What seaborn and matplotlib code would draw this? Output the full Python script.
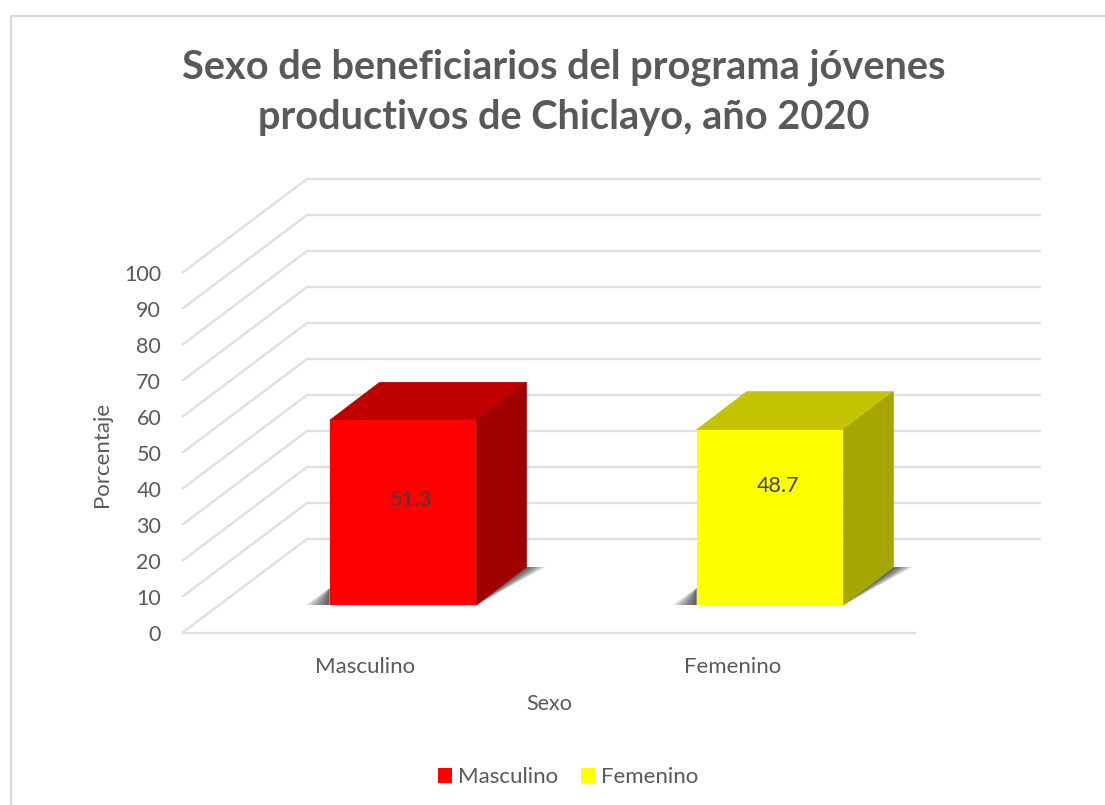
import matplotlib
matplotlib.use('Agg')
import matplotlib.pyplot as plt
from matplotlib.lines import Line2D
from matplotlib.patches import Polygon
from matplotlib.transforms import Affine2D
import pandas as pd
import seaborn as sns

# data
categories = ['Masculino', 'Femenino']
values = [51.3, 48.7]
y_ticks = [0, 10, 20, 30, 40, 50, 60, 70, 80, 90, 100]

front_colors = ['#FF0000', '#FFFF00']
top_colors = ['#C00000', '#C4C400']
side_colors = ['#A00000', '#A6A600']
text_color = '#595959'
grid_color = '#E0E0E0'

# fake 3D depth, in pixels
floor_dx, floor_dy = 125, 94
bar_dx, bar_dy = 50, 38
x_px, y_px = 367, 3.6

sns.set_theme(style='white')
plt.rcParams['font.family'] = ['Lato', 'DejaVu Sans']

fig = plt.figure(figsize=(11.05, 8.05), dpi=100, facecolor='white')
ax = fig.add_axes([182 / 1105, (805 - 633) / 805, 734 / 1105, 360 / 805])

df = pd.DataFrame({'Sexo': categories, 'Porcentaje': values})
sns.barplot(data=df, x='Sexo', y='Porcentaje', hue='Sexo', palette=front_colors,
            saturation=1, width=0.4, dodge=False, legend=True, ax=ax, zorder=5, linewidth=0)
ax.set_xlim(-0.5, 1.5)
ax.set_ylim(0, 100)
ax.set_yticks(y_ticks)
ax.tick_params(axis='y', length=0, pad=15, labelsize=15.5, labelcolor=text_color)
ax.tick_params(axis='x', length=0, pad=17, labelsize=16, labelcolor=text_color)
sns.despine(ax=ax, left=True, bottom=True)
ax.patch.set_alpha(0)

# walls and floor
wx = floor_dx / x_px
wy = floor_dy / y_px
line_kw = dict(color=grid_color, lw=1.7, clip_on=False, zorder=1, solid_capstyle='butt')
for t in y_ticks:
    ax.plot([-0.5, -0.5 + wx, 1.5 + wx], [t, t + wy, t + wy], **line_kw)
ax.plot([-0.5, 1.5], [0, 0], **line_kw)

# bars sit in the middle of the floor depth
shift = Affine2D().translate((floor_dx - bar_dx) / 2, (floor_dy - bar_dy) / 2)
bar_trans = ax.transData + shift
bx = bar_dx / x_px
by = bar_dy / y_px
bars = [c[0] for c in ax.containers]
label_drop = [80, 56]
for i, bar in enumerate(bars):
    bar.set_transform(bar_trans)
    bar.set_clip_on(False)
    x0 = bar.get_x()
    x1 = x0 + bar.get_width()
    h = bar.get_height()
    # shadow wedges on the floor
    for k in range(8):
        reach = 1 - k / 8
        ax.add_patch(Polygon([(x1, 0), (x1 + bx, by), (x1 + bx + reach * 19 / x_px, by)],
                             closed=True, fc='black', ec='none', alpha=0.11,
                             transform=bar_trans, clip_on=False, zorder=3))
        ax.add_patch(Polygon([(x0, 0), (x0, 17 / y_px), (x0 - reach * 24 / x_px, 0)],
                             closed=True, fc='black', ec='none', alpha=0.11,
                             transform=bar_trans, clip_on=False, zorder=3))
    ax.add_patch(Polygon([(x0, h), (x1, h), (x1 + bx, h + by), (x0 + bx, h + by)],
                         closed=True, fc=top_colors[i], ec=top_colors[i], lw=0.5,
                         transform=bar_trans, clip_on=False, zorder=4))
    ax.add_patch(Polygon([(x1, 0), (x1 + bx, by), (x1 + bx, h + by), (x1, h)],
                         closed=True, fc=side_colors[i], ec=side_colors[i], lw=0.5,
                         transform=bar_trans, clip_on=False, zorder=4))
    ax.text(i + 8 / x_px, h - label_drop[i] / y_px, str(values[i]), ha='center', va='center',
            fontsize=15.5, color='#404040', transform=bar_trans, zorder=6)

ax.set_xlabel('Sexo', fontsize=15.5, color=text_color, va='center')
ax.xaxis.set_label_coords(0.5, -71 / 360)
ax.set_ylabel('Porcentaje', fontsize=16, color=text_color, va='center')
ax.yaxis.set_label_coords(-80 / 734, 0.497)

sns.move_legend(ax, 'center', bbox_to_anchor=(568 / 1105, (805 - 777) / 805),
                bbox_transform=fig.transFigure, ncol=2, frameon=False, title=None,
                fontsize=16, labelcolor=text_color, handlelength=0.64, handleheight=0.64,
                handletextpad=0.25, columnspacing=1.05)

fig.text(564 / 1105, (805 - 92) / 805,
         'Sexo de beneficiarios del programa jóvenes\nproductivos de Chiclayo, año 2020',
         ha='center', va='center', fontsize=28.6, fontweight='bold', color=text_color,
         linespacing=1.45)

# chart frame, only top and left edges are inside the picture
fig.add_artist(Line2D([10.5 / 1105, 10.5 / 1105, 1], [0, (805 - 16) / 805, (805 - 16) / 805],
                      color='#D9D9D9', lw=1.5))

fig.savefig('out.png', dpi=100)
